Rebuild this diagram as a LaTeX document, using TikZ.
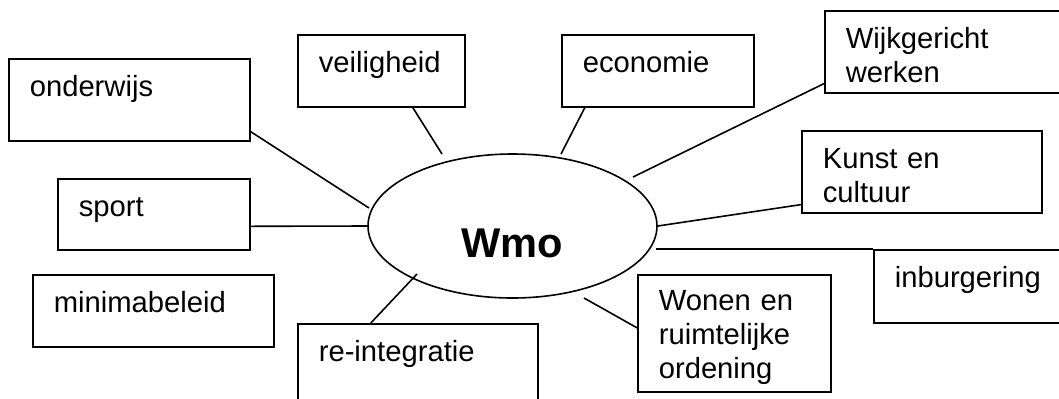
\documentclass[tikz,border=0pt]{standalone}
\usepackage{fontspec}
\setmainfont{Liberation Sans}
\usetikzlibrary{shapes.geometric}

\begin{document}
\begin{tikzpicture}[x=0.5pt, y=-0.5pt, line width=0.8pt,
    font=\fontsize{14.6}{17}\selectfont,
    box/.style={draw, anchor=north west, align=left, inner xsep=10.5pt, inner ysep=0pt, text height=19pt}]
    \useasboundingbox (0,0) rectangle (1059,398);
    \clip (0,0) rectangle (1059,398);
    \node [ellipse, draw, minimum width=144.5pt, minimum height=72pt, inner sep=0pt,
           text height=31pt, text depth=0pt, font=\fontsize{20.8}{24}\selectfont\bfseries] (wmo) at (512.5,226) {Wmo};
    \node [box, text width=99.5pt, text depth=22pt] (onderwijs) at (8,58) {onderwijs};
    \node [box, text width=62.5pt, text depth=17pt] (veiligheid) at (297,34) {veiligheid};
    \node [box, text width=75pt, text depth=17pt] (economie) at (561,34) {economie};
    \node [box, text width=109pt, text depth=22pt] (wijk) at (824,10) {Wijkgericht\\werken};
    \node [box, text width=99pt, text depth=22pt] (kunst) at (801,130) {Kunst en\\cultuur};
    \node [box, text width=89pt, text depth=17.5pt] (inburgering) at (873,249) {inburgering};
    \node [box, text width=75pt, text depth=16.5pt] (sport) at (57,178) {sport};
    \node [box, text width=99.5pt, text depth=17pt] (minimabeleid) at (32,274) {minimabeleid};
    \node [box, text width=99pt, text depth=36pt] (reintegratie) at (297,323) {re-integratie};
    \node [box, text width=75.5pt, text depth=40.5pt, text height=18pt] (wonen) at (637,274) {Wonen en\\ruimtelijke\\ordening};
    \coordinate (onderwijs-end) at (369,208);
    \coordinate (veiligheid-end) at (442,154);
    \coordinate (economie-end) at (561,154);
    \coordinate (wijk-end) at (633,177);
    \coordinate (inburgering-end) at (656,249);
    \coordinate (wonen-end) at (584,298);
    \coordinate (reintegratie-end) at (417,274);
    \draw ([yshift=5pt]onderwijs.south east) -- (onderwijs-end);
    \draw ([yshift=-6pt]sport.east) -- (wmo.west);
    \draw ([xshift=15.75pt]veiligheid.south) -- (veiligheid-end);
    \draw ([xshift=-36.5pt]economie.south) -- (economie-end);
    \draw ([yshift=5pt]wijk.south west) -- (wijk-end);
    \draw ([yshift=4.5pt]kunst.south west) -- (wmo.east);
    \draw (inburgering-end) -- (inburgering.north west);
    \draw (wonen-end) -- ([yshift=2.75pt]wonen.west);
    \draw ([xshift=-23.5pt]reintegratie.north) -- (reintegratie-end);
\end{tikzpicture}
\end{document}
